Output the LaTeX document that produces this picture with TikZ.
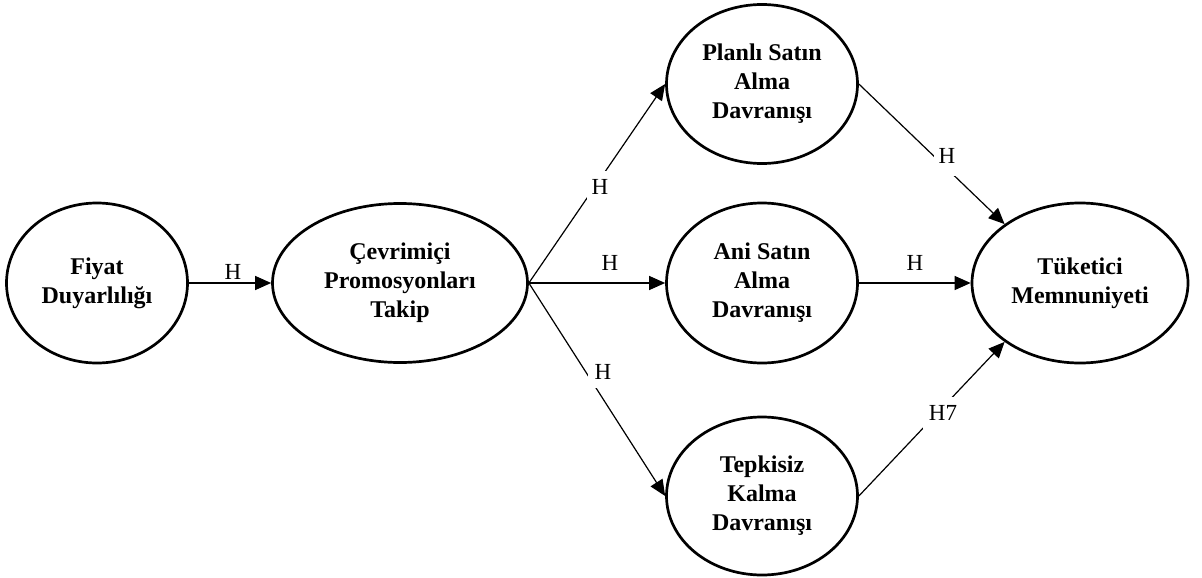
\documentclass[tikz,border=0pt]{standalone}
\usepackage{fontspec}
\setmainfont{Liberation Serif}
\usetikzlibrary{shapes.geometric,arrows.meta}
\begin{document}
\begin{tikzpicture}[x=1pt,y=-1pt,
  construct/.style={draw,line width=2.7pt,ellipse,inner sep=0pt,align=center,
    font=\fontsize{24}{29}\selectfont\bfseries},
  path/.style={line width=1.2pt,-{Triangle[length=16pt,width=14pt]}},
  hlab/.style={font=\fontsize{23}{26}\selectfont,inner sep=0pt},
  cutlab/.style={hlab,fill=white,minimum width=26pt,minimum height=32pt}]
\useasboundingbox (0,0) rectangle (1202,578);
\node[construct,minimum width=181pt,minimum height=160pt] (fd) at (97,283) {Fiyat\\Duyarlılığı};
\node[construct,minimum width=255pt,minimum height=159pt] (cp) at (400,283) {Çevrimiçi\\Promosyonları\\Takip};
\node[construct,minimum width=191pt,minimum height=159pt] (ps) at (762,84) {Planlı Satın\\Alma\\Davranışı};
\node[construct,minimum width=191pt,minimum height=160pt] (as) at (762,283) {Ani Satın\\Alma\\Davranışı};
\node[construct,minimum width=191pt,minimum height=158pt] (tk) at (762,496) {Tepkisiz\\Kalma\\Davranışı};
\node[construct,minimum width=216pt,minimum height=160pt] (tm) at (1080,283) {Tüketici\\Memnuniyeti};
\draw[path] (fd.east) -- (cp.west);
\draw[path] (cp.east) -- (ps.west);
\draw[path] (cp.east) -- (as.west);
\draw[path] (cp.east) -- (tk.west);
\draw[path] (ps.east) -- (tm.142);
\draw[path] (as.east) -- (tm.west);
\draw[path] (tk.east) -- (tm.218);
\node[hlab] (l1) at (233,272) {H};
\node[hlab] (l3) at (610,263) {H};
\node[hlab] (l6) at (915,263) {H};
\node[cutlab] (l2) at (600,187) {H};
\node[cutlab,minimum width=30pt] (l4) at (603,372) {H};
\node[cutlab,minimum height=40pt] (l5) at (947,156) {H};
\node[cutlab,minimum width=40pt] (l7) at (943,413) {H7};
\end{tikzpicture}
\end{document}
